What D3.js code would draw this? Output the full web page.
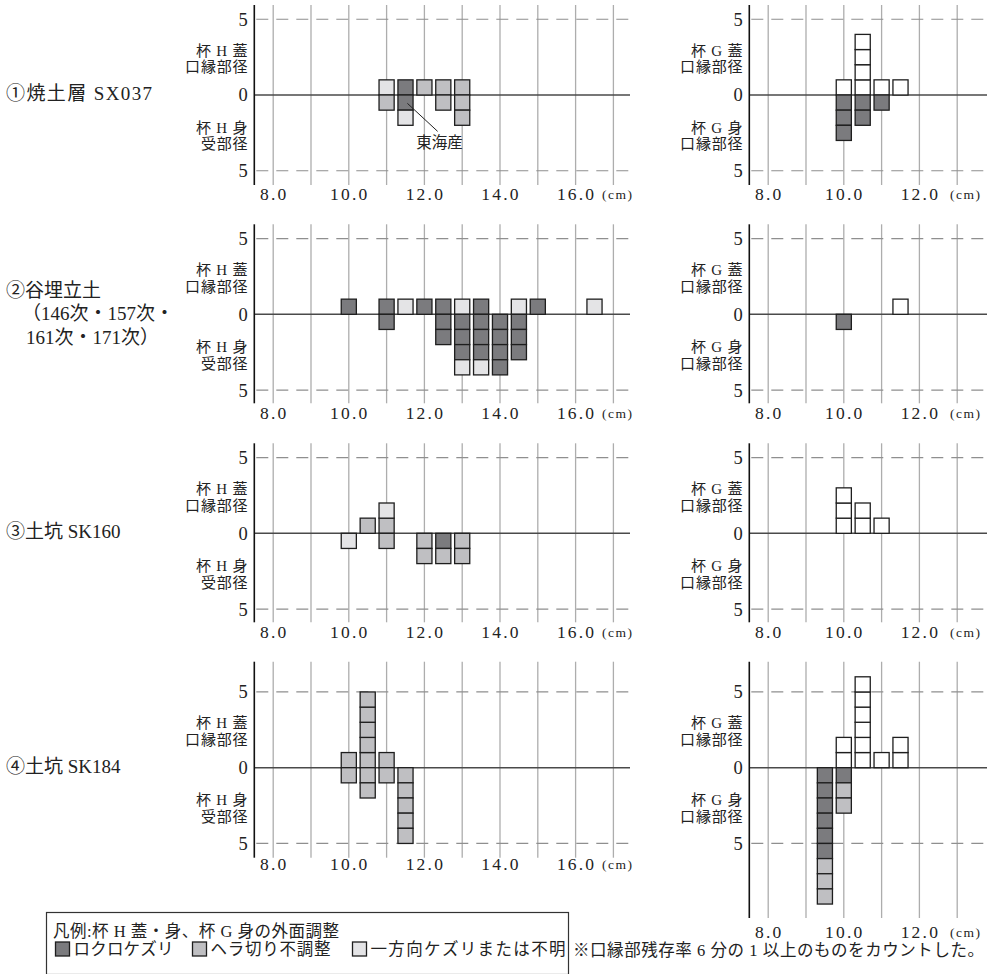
<!DOCTYPE html>
<html>
<head>
<meta charset="utf-8">
<script src="https://cdn.jsdelivr.net/npm/d3@7"></script>
<style>
  body { margin: 0; background: #fff; }
  svg { display: block; }
  text { font-family: "Liberation Serif", "Noto Sans CJK JP", serif; fill: #222; }
</style>
</head>
<body>
<script>
// ---- axis ticks and grid positions (cm) ----
const ticksH = [8.0, 10.0, 12.0, 14.0, 16.0];
const ticksG = [8.0, 10.0, 12.0];
const gridH = [8, 9, 10, 11, 12, 13, 14, 15, 16, 17];
const gridG = [8, 9, 10, 11, 12, 13];

// ---- row titles ----
const rowLabels = [
  ["①焼土層 SX037"],
  ["②谷埋立土", "（146次・157次・", "161次・171次）"],
  ["③土坑 SK160"],
  ["④土坑 SK184"]
];

// ---- counts: [diameter cm, stack from the zero line outward] ----
// D = ロクロケズリ, M = ヘラ切り不調整, L = 一方向ケズリまたは不明, W = 杯G蓋
const sx037HLid  = [[11.0, "L"], [11.5, "D"], [12.0, "M"], [12.5, "M"], [13.0, "M"]];
const sx037HBody = [[11.0, "M"], [11.5, "DL"], [12.5, "M"], [13.0, "MM"]];
const sx037GLid  = [[10.0, "W"], [10.5, "WWWW"], [11.0, "W"], [11.5, "W"]];
const sx037GBody = [[10.0, "DDD"], [10.5, "DD"], [11.0, "D"]];

const fillHLid  = [[10.0, "D"], [11.0, "D"], [11.5, "L"], [12.0, "D"], [12.5, "D"], [13.0, "L"], [13.5, "D"], [14.5, "L"], [15.0, "D"], [16.5, "L"]];
const fillHBody = [[11.0, "D"], [12.5, "DD"], [13.0, "DDDL"], [13.5, "DDDL"], [14.0, "DDDD"], [14.5, "DDD"]];
const fillGLid  = [[11.5, "W"]];
const fillGBody = [[10.0, "D"]];

const sk160HLid  = [[10.5, "M"], [11.0, "ML"]];
const sk160HBody = [[10.0, "L"], [11.0, "M"], [12.0, "MM"], [12.5, "DM"], [13.0, "MM"]];
const sk160GLid  = [[10.0, "WWW"], [10.5, "WW"], [11.0, "W"]];
const sk160GBody = [];

const sk184HLid  = [[10.0, "M"], [10.5, "MMMMM"], [11.0, "M"]];
const sk184HBody = [[10.0, "M"], [10.5, "MM"], [11.0, "M"], [11.5, "MMMMM"]];
const sk184GLid  = [[10.0, "WW"], [10.5, "WWWWWW"], [11.0, "W"], [11.5, "WW"]];
const sk184GBody = [[9.5, "DDDDDDMMM"], [10.0, "DMM"]];

// ---- legend ----
const legendTitle = "凡例:杯 H 蓋・身、杯 G 身の外面調整";
const legendKeys = ["D", "M", "L"];
const legendNames = ["ロクロケズリ", "ヘラ切り不調整", "一方向ケズリまたは不明"];
const footnote = "※口縁部残存率 6 分の 1 以上のものをカウントした。";

const fills = { D: "#7b7b7e", M: "#bfbfc2", L: "#e4e4e6", W: "#ffffff" };

const W = 987, H = 974;
const svg = d3.select("body").append("svg").attr("width", W).attr("height", H);

const unit = 15.15;  // px per count
const rows = [
  { zero: 95.0,  top: 90, bottom: 90, tickY: 200, labels: rowLabels[0] },
  { zero: 314.3, top: 90, bottom: 89, tickY: 419, labels: rowLabels[1] },
  { zero: 533.3, top: 90, bottom: 89, tickY: 638, labels: rowLabels[2] },
  { zero: 767.7, top: 106, bottom: 90, tickY: 870, labels: rowLabels[3] }
];

const panels = [
  { row: 0, side: "H", lid: sx037HLid, body: sx037HBody },
  { row: 0, side: "G", lid: sx037GLid, body: sx037GBody },
  { row: 1, side: "H", lid: fillHLid, body: fillHBody },
  { row: 1, side: "G", lid: fillGLid, body: fillGBody },
  { row: 2, side: "H", lid: sk160HLid, body: sk160HBody },
  { row: 2, side: "G", lid: sk160GLid, body: sk160GBody },
  { row: 3, side: "H", lid: sk184HLid, body: sk184HBody },
  { row: 3, side: "G", lid: sk184GLid, body: sk184GBody, bottom: 150.3, tickY: 938 }
];

const sideCfg = {
  H: { x0: 254.3, end: 630, grid: gridH, ticks: ticksH, cm: 602,
       names: ["杯 H 蓋", "口縁部径", "杯 H 身", "受部径"] },
  G: { x0: 749.3, end: 987, grid: gridG, ticks: ticksG, cm: 950,
       names: ["杯 G 蓋", "口縁部径", "杯 G 身", "口縁部径"] }
};
const pxPerCm = 37.8;

panels.forEach(p => {
  const r = rows[p.row];
  const cfg = sideCfg[p.side];
  const x = d3.scaleLinear().domain([7.5, 8.5]).range([cfg.x0, cfg.x0 + pxPerCm]);
  const y = d3.scaleLinear().domain([0, 1]).range([r.zero, r.zero - unit]);
  const yTop = r.zero - r.top;
  const yBot = r.zero + (p.bottom || r.bottom);
  const g = svg.append("g");

  // vertical grid
  g.selectAll("line.grid").data(cfg.grid).join("line")
    .attr("x1", d => x(d)).attr("x2", d => x(d))
    .attr("y1", yTop).attr("y2", yBot)
    .attr("stroke", "#adadad").attr("stroke-width", 1.3);

  // dashed reference lines at ±5
  g.selectAll("line.ref").data([5, -5]).join("line")
    .attr("x1", cfg.x0 + 2).attr("x2", cfg.end)
    .attr("y1", d => y(d)).attr("y2", d => y(d))
    .attr("stroke", "#8f8f8f").attr("stroke-width", 1.2)
    .attr("stroke-dasharray", "12,8");

  // zero line
  g.append("line")
    .attr("x1", cfg.x0).attr("x2", cfg.end)
    .attr("y1", y(0)).attr("y2", y(0))
    .attr("stroke", "#4a4a4a").attr("stroke-width", 1.6);

  // stacked squares
  const cells = [];
  p.lid.forEach(([cm, s]) => s.split("").forEach((k, i) =>
    cells.push({ cm, k, v0: i + 1, v1: i })));
  p.body.forEach(([cm, s]) => s.split("").forEach((k, i) =>
    cells.push({ cm, k, v0: -i, v1: -(i + 1) })));
  g.selectAll("rect.cell").data(cells).join("rect")
    .attr("x", d => x(d.cm - 0.2))
    .attr("width", d => x(d.cm + 0.2) - x(d.cm - 0.2))
    .attr("y", d => y(d.v0))
    .attr("height", d => y(d.v1) - y(d.v0))
    .attr("fill", d => fills[d.k])
    .attr("stroke", "#1e1e1e").attr("stroke-width", 1.3);

  // y axis line
  g.append("line")
    .attr("x1", cfg.x0).attr("x2", cfg.x0)
    .attr("y1", yTop).attr("y2", yBot)
    .attr("stroke", "#111").attr("stroke-width", 1.6);

  // y value labels
  g.selectAll("text.yv").data([[5, "5"], [0, "0"], [-5, "5"]]).join("text")
    .attr("x", cfg.x0 - 6.5).attr("y", d => y(d[0])).attr("dy", "0.35em")
    .attr("text-anchor", "end").attr("font-size", 18.5)
    .text(d => d[1]);

  // series names beside the axis
  const nameY = [r.zero - 44.5, r.zero - 28, r.zero + 32.5, r.zero + 49];
  g.selectAll("text.nm").data(cfg.names).join("text")
    .attr("x", cfg.x0 - 6).attr("y", (d, i) => nameY[i]).attr("dy", "0.35em")
    .attr("text-anchor", "end").attr("font-size", 15).attr("letter-spacing", 0.8)
    .text(d => d);

  // x tick labels
  const tickY = p.tickY || r.tickY;
  g.selectAll("text.tk").data(cfg.ticks).join("text")
    .attr("x", d => x(d) + 1).attr("y", tickY)
    .attr("text-anchor", "middle").attr("font-size", 17.5).attr("letter-spacing", 2.2)
    .text(d => d3.format(".1f")(d));
  g.append("text")
    .attr("x", cfg.cm).attr("y", tickY - 1)
    .attr("font-size", 13.5).attr("letter-spacing", 1.5)
    .text("(cm)");

  // producer note on the first panel
  if (p.row === 0 && p.side === "H") {
    g.append("line")
      .attr("x1", x(11.55)).attr("y1", y(-0.55))
      .attr("x2", x(12.35)).attr("y2", y(-2.4))
      .attr("stroke", "#222").attr("stroke-width", 1);
    g.append("text")
      .attr("x", x(12.4)).attr("y", y(-3.5))
      .attr("text-anchor", "middle").attr("font-size", 15.5)
      .text("東海産");
  }
});

// row titles
rows.forEach((r, ri) => {
  const n = r.labels.length;
  const lineX = [6, 22, 26];
  r.labels.forEach((t, i) => {
    const el = svg.append("text")
      .attr("x", n === 1 ? 6 : lineX[i])
      .attr("y", r.zero + (i - (n - 1) / 2) * 23.5 - (n > 1 ? 0.5 : 1.5))
      .attr("dy", "0.35em")
      .attr("font-size", 19)
      .text(t);
    if (ri === 0) el.attr("textLength", 146).attr("lengthAdjust", "spacing");
  });
});

// legend box
const lg = svg.append("g");
lg.append("rect")
  .attr("x", 46.5).attr("y", 912.5).attr("width", 522).attr("height", 62)
  .attr("fill", "none").attr("stroke", "#333").attr("stroke-width", 1.2);
lg.append("text")
  .attr("x", 53).attr("y", 937).attr("font-size", 16.5)
  .attr("textLength", 286).attr("lengthAdjust", "spacing")
  .text(legendTitle);
const keyX = [55.5, 192.5, 352.5];
const keyLen = [100, 120, 195];
legendKeys.forEach((k, i) => {
  lg.append("rect")
    .attr("x", keyX[i]).attr("y", 942).attr("width", 14).attr("height", 14)
    .attr("fill", fills[k]).attr("stroke", "#1e1e1e").attr("stroke-width", 1.3);
  lg.append("text")
    .attr("x", keyX[i] + 18).attr("y", 955).attr("font-size", 16.5)
    .attr("textLength", keyLen[i]).attr("lengthAdjust", "spacing")
    .text(legendNames[i]);
});

svg.append("text")
  .attr("x", 573).attr("y", 956).attr("font-size", 16.5)
  .attr("textLength", 411).attr("lengthAdjust", "spacing")
  .text(footnote);
</script>
</body>
</html>
